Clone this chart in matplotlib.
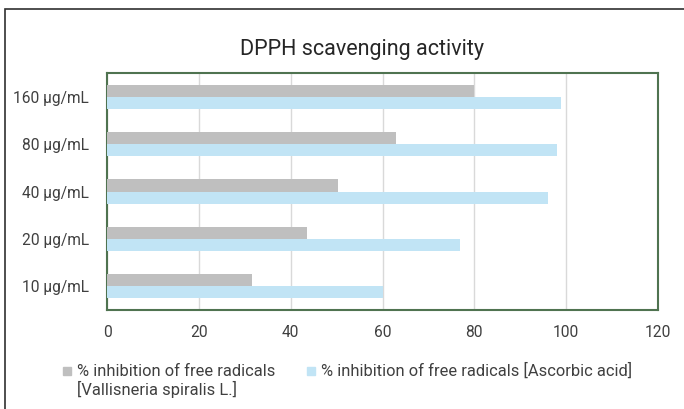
import matplotlib
matplotlib.use('Agg')
from matplotlib import pyplot as plt
from matplotlib.patches import Rectangle
import numpy as np

plt.rcParams['font.family'] = ['Roboto', 'DejaVu Sans']

concentrations = ['10 µg/mL', '20 µg/mL', '40 µg/mL', '80 µg/mL', '160 µg/mL']
vallisneria = [31.6, 43.6, 50.3, 63.0, 80.0]
ascorbic = [60.0, 76.8, 96.1, 97.9, 98.8]
xticks = [0, 20, 40, 60, 80, 100, 120]

label_v = '% inhibition of free radicals\n[Vallisneria spiralis L.]'
label_a = '% inhibition of free radicals [Ascorbic acid]'
color_v = '#bfbfbf'
color_a = '#c1e4f5'

W, H = 684, 409

#plot data
fig = plt.figure(dpi=100, figsize=(6.84, 4.09))
ax = fig.add_axes([107 / W, 1 - 310 / H, 551 / W, 237 / H])

y = np.arange(len(concentrations))
h = 0.257
ax.barh(y + h / 2, vallisneria, height=h, color=color_v, zorder=3)
ax.barh(y - h / 2, ascorbic, height=h, color=color_a, zorder=3)

#format plot
ax.set_xlim(0, 120)
ax.set_ylim(-0.5, len(concentrations) - 0.5)
ax.set_xticks(xticks)
ax.set_yticks(y)
ax.set_yticklabels(concentrations)
ax.tick_params(axis='both', length=0, labelsize=11.2, colors='#404040')
ax.tick_params(axis='y', pad=13)
ax.tick_params(axis='x', pad=11)
ax.grid(axis='x', color='#d9d9d9', lw=1, zorder=0)
for s in ax.spines.values():
    s.set_color('#4f7350')
    s.set_linewidth(1.5)

fig.text(362 / W, 1 - 55 / H, 'DPPH scavenging activity', ha='center', va='baseline',
         fontsize=15.5, color='#262626')

# legend, laid out like the Excel one (square aligned with first line)
for (x0, lab, c) in [(63, label_v, color_v), (307, label_a, color_a)]:
    fig.add_artist(Rectangle((x0 / W, 1 - 375 / H), 8 / W, 8 / H, color=c,
                             transform=fig.transFigure))
    for i, line in enumerate(lab.split('\n')):
        fig.text((x0 + 14) / W, 1 - (375.5 + 20 * i) / H, line, ha='left',
                 va='baseline', fontsize=11.9, color='#404040')

# outer chart border
fig.add_artist(Rectangle((5 / W, -0.1), 1.2, 1 - 9 / H + 0.1, fill=False,
                         edgecolor='#303030', lw=1.2, transform=fig.transFigure))

plt.savefig('out.png', dpi=100)
